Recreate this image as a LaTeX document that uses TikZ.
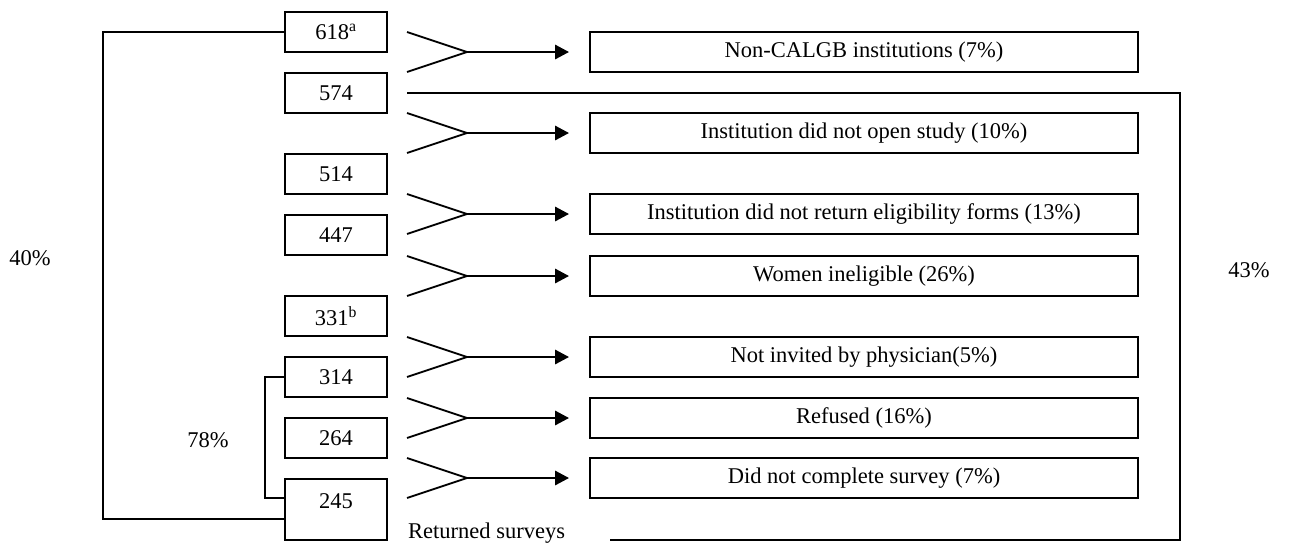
\documentclass[tikz,border=0pt]{standalone}
\usepackage{fontspec}
\setmainfont{Liberation Serif}
\usetikzlibrary{arrows.meta}
\begin{document}
\begin{tikzpicture}[x=1pt,y=-1pt, font=\fontsize{22.5}{26}\selectfont,
 nbox/.style={draw, line width=1.8pt, minimum width=102pt, minimum height=40pt, inner sep=0pt},
 rbox/.style={draw, line width=1.8pt, minimum width=548pt, minimum height=40pt, inner sep=0pt, text height=15pt, text depth=4pt},
 link/.style={line width=1.7pt},
 wedge/.style={line width=1.8pt},
 flow/.style={line width=2.8pt, -{Triangle[length=14pt,width=14pt]}}]
\useasboundingbox (0,0) rectangle (1290,547);
% left count boxes
\node[nbox] (l618) at (336,32) {618\textsuperscript{a}};
\node[nbox] (l574) at (336,93) {574};
\node[nbox] (l514) at (336,174) {514};
\node[nbox] (l447) at (336,235) {447};
\node[nbox] (l331) at (336,316) {331\textsuperscript{b}};
\node[nbox] (l314) at (336,377) {314};
\node[nbox] (l264) at (336,438) {264};
\node[nbox, minimum height=0pt, text height=29.5pt, text depth=31.5pt, anchor=north] (l245) at (336,478) {245};
% right reason boxes
\node[rbox] (r1) at (864,52) {Non-CALGB institutions (7\%)};
\node[rbox] (r2) at (864,133) {Institution did not open study (10\%)};
\node[rbox] (r3) at (864,214) {Institution did not return eligibility forms (13\%)};
\node[rbox] (r4) at (864,276) {Women ineligible (26\%)};
\node[rbox] (r5) at (864,357) {Not invited by physician(5\%)};
\node[rbox] (r6) at (864,418) {Refused (16\%)};
\node[rbox] (r7) at (864,478) {Did not complete survey (7\%)};
% wedges and arrows
\foreach \i/\p in {1/52,2/133,3/214,4/276,5/357,6/418,7/478}{
  \coordinate (wt\i) at (407,\p-20);
  \coordinate (wp\i) at (467,\p);
  \coordinate (wb\i) at (407,\p+20);
  \draw[wedge] (wt\i) -- (wp\i) -- (wb\i);
  \draw[flow] (wp\i) -- ([xshift=-20pt]r\i.west);
}
% percentage labels
\node (p40) at (30,258) {40\%};
\node (p78) at (208,440) {78\%};
\node (p43) at (1249,270) {43\%};
\node[anchor=west, inner sep=0pt] (ret) at (408,533) {Returned surveys};
% brackets
\coordinate (lb) at (285,519);
\draw[link] (l618.west) -- (103,32) -- (103,519) -- (lb);
\coordinate (ib) at (285,498);
\draw[link] (l314.west) -- (265,377) -- (265,498) -- (ib);
\coordinate (rs) at (407,93);
\coordinate (re) at (610,540);
\draw[link] (rs) -- (1180,93) -- (1180,540) -- (re);
\end{tikzpicture}
\end{document}
